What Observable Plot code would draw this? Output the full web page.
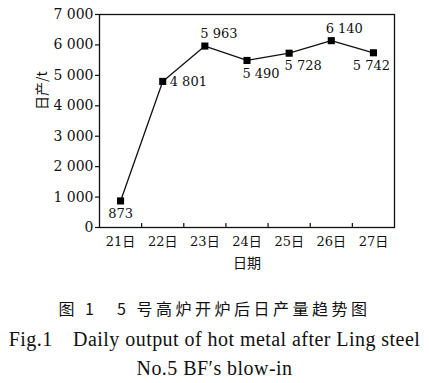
<!DOCTYPE html>
<html><head><meta charset="utf-8">
<script src="https://cdn.jsdelivr.net/npm/d3@7"></script>
<script src="https://cdn.jsdelivr.net/npm/@observablehq/plot@0.6"></script>
<style>
body{margin:0;background:#fff;width:429px;overflow:hidden;}
#cap{font-family:"Liberation Serif","Noto Sans CJK SC",serif;color:#111;text-align:center;}
.l1{font-family:"Noto Sans CJK SC",serif;font-size:16px;letter-spacing:3.5px;line-height:30px;margin-top:13px;}
.l2{font-size:20px;letter-spacing:0.45px;line-height:33px;white-space:nowrap;}
.l3{font-size:20px;letter-spacing:0.45px;line-height:25px;}
</style></head><body>
<div id="chart"></div>
<div id="cap"><div class="l1">图 1　5 号高炉开炉后日产量趋势图</div>
<div class="l2">Fig.1　Daily output of hot metal after Ling steel</div>
<div class="l3">No.5 BF′s blow-in</div></div>
<script>
const days = [21, 22, 23, 24, 25, 26, 27];
const output = [873, 4801, 5963, 5490, 5728, 6140, 5742];
const yTicks = [0, 1000, 2000, 3000, 4000, 5000, 6000, 7000];
const xLabel = "日期";
const yLabel = "日产/t";

const data = days.map((d, i) => ({day: d, value: output[i]}));
const fmt = d3.formatLocale({thousands: " ", grouping: [3], decimal: "."}).format(",");
const font = "DejaVu Serif, Noto Sans CJK SC, serif";
const bounds = days.slice(1).map(d => d - 0.5);

// label placement per day (style, not data)
const place = {
  21: {dx: 0, dy: 13, anchor: "middle"},
  22: {dx: 7, dy: 0, anchor: "start"},
  23: {dx: 14, dy: -12, anchor: "middle"},
  24: {dx: 14, dy: 13, anchor: "middle"},
  25: {dx: 14, dy: 13, anchor: "middle"},
  26: {dx: 13, dy: -12, anchor: "middle"},
  27: {dx: -2, dy: 13, anchor: "middle"}
};
const labelMarks = data.map(d => Plot.text([d], {
  x: "day", y: "value", text: r => fmt(r.value),
  dx: place[d.day].dx, dy: place[d.day].dy, textAnchor: place[d.day].anchor,
  fontSize: 13, fill: "#111"
}));

const plot = Plot.plot({
  width: 429, height: 280,
  marginLeft: 99, marginRight: 35, marginTop: 14, marginBottom: 53,
  style: {fontFamily: font, fontSize: "14px", color: "#111", background: "#fff"},
  x: {domain: [days[0] - 0.5, days[days.length - 1] + 0.5]},
  y: {domain: [0, 7000]},
  marks: [
    Plot.frame({stroke: "#111", strokeWidth: 1.3}),
    Plot.axisY({ticks: yTicks, tickFormat: fmt, tickSize: 4, tickPadding: 2, label: null, fontSize: 14, strokeWidth: 1.2}),
    Plot.axisX({ticks: days, tickFormat: d => d + "日", tickSize: 0, tickPadding: 9, label: null, fontSize: 13}),
    Plot.axisX({ticks: bounds, tickFormat: () => "", tickSize: -4, label: null, strokeWidth: 1.2}),
    Plot.text([xLabel], {frameAnchor: "bottom", dy: 40, text: d => d, fontSize: 14, fontFamily: "Noto Sans CJK SC"}),
    Plot.text([yLabel], {frameAnchor: "left", dx: -57, dy: -11, rotate: -90, text: d => d, fontSize: 14, fontFamily: "Noto Sans CJK SC"}),
    Plot.line(data, {x: "day", y: "value", stroke: "#111", strokeWidth: 1.3}),
    Plot.dot(data, {x: "day", y: "value", symbol: "square", r: 4, fill: "#000", stroke: null}),
    ...labelMarks
  ]
});
document.getElementById("chart").appendChild(plot);
</script>
</body></html>
